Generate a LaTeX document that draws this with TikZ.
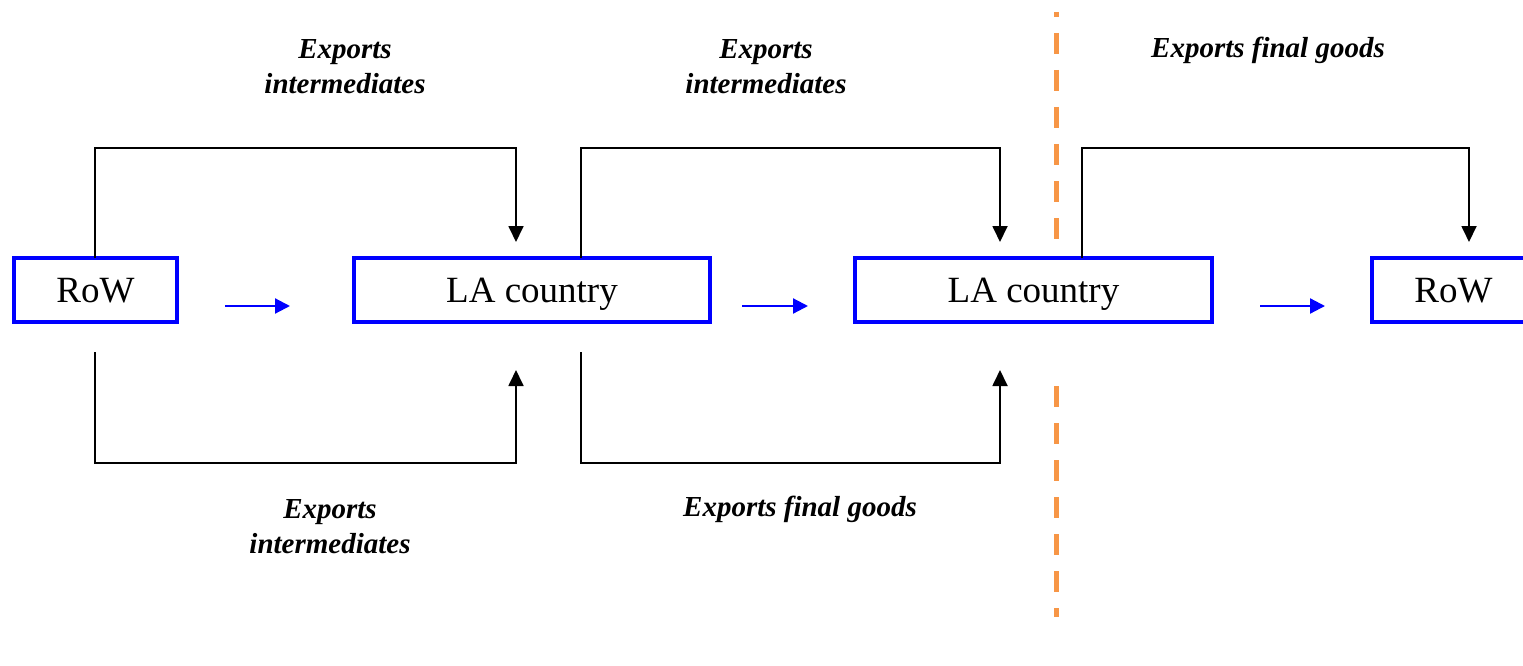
\documentclass[tikz,border=0pt]{standalone}
\usepackage{fontspec}
\setmainfont{Liberation Serif}
\usetikzlibrary{arrows.meta}
\definecolor{sepor}{RGB}{247,150,70}
\begin{document}
\begin{tikzpicture}[x=1pt,y=-1pt,
  box/.style={draw=blue,line width=3.5pt,minimum height=64pt,inner sep=0pt,text height=27pt,text depth=3pt,font=\fontsize{37}{40}\selectfont},
  flow/.style={draw=blue,line width=2.2pt,-{Triangle[length=15pt,width=15pt]}},
  link/.style={draw=black,line width=1.8pt},
  linkarr/.style={link,-{Triangle[length=16pt,width=15pt]}},
  lbl/.style={font=\fontsize{29}{35}\selectfont\bfseries\itshape,align=center},
  sep/.style={draw=sepor,line width=5pt,dash pattern=on 21pt off 16pt}]
\useasboundingbox (0,0) rectangle (1523,666);
\begin{scope}
\clip (0,0) rectangle (1523,666);
\node[box,minimum width=163pt] (r1) at (95.5,290) {RoW};
\node[box,minimum width=356pt] (l1) at (532,290) {LA country};
\node[box,minimum width=357pt] (l2) at (1033.5,290) {LA country};
\node[box,minimum width=163pt] (r2) at (1453.5,290) {RoW};
\end{scope}
% blue flows
\coordinate (f1a) at (225,306); \coordinate (f1b) at (290,306);
\coordinate (f2a) at (742,306); \coordinate (f2b) at (808,306);
\coordinate (f3a) at (1260,306); \coordinate (f3b) at (1325,306);
\draw[flow] (f1a) -- (f1b);
\draw[flow] (f2a) -- (f2b);
\draw[flow] (f3a) -- (f3b);
% top links
\coordinate (t1s) at (95,258); \coordinate (t1e) at (516,242);
\coordinate (t2s) at (581,258); \coordinate (t2e) at (1000,242);
\coordinate (t3s) at (1082,258); \coordinate (t3e) at (1469,242);
\draw[linkarr] (t1s) |- (516,148) -- (t1e);
\draw[linkarr] (t2s) |- (1000,148) -- (t2e);
\draw[linkarr] (t3s) |- (1469,148) -- (t3e);
% bottom links
\coordinate (b1s) at (95,352); \coordinate (b1e) at (516,370);
\coordinate (b2s) at (581,352); \coordinate (b2e) at (1000,370);
\draw[linkarr] (b1s) |- (516,463) -- (b1e);
\draw[linkarr] (b2s) |- (1000,463) -- (b2e);
% separator
\coordinate (s1) at (1056,12); \coordinate (s2) at (1056,242);
\coordinate (s3) at (1056,386); \coordinate (s4) at (1056,617);
\draw[sep,dash phase=16pt] (s1) -- (s2);
\draw[sep] (s3) -- (s4);
% labels
\node[lbl] (la) at (345,67) {Exports\\intermediates};
\node[lbl] (lb) at (766,67) {Exports\\intermediates};
\node[lbl] (lc) at (1268,50) {Exports final goods};
\node[lbl] (ld) at (330,527) {Exports\\intermediates};
\node[lbl] (le) at (800,509) {Exports final goods};
\end{tikzpicture}
\end{document}
